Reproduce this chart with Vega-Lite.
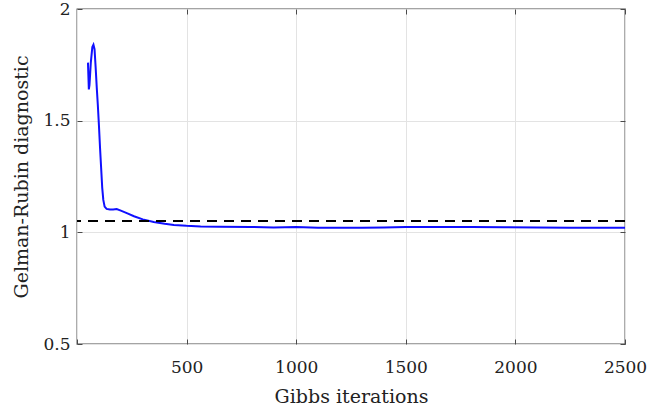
{
  "$schema": "https://vega.github.io/schema/vega-lite/v6.json",
  "width": 548,
  "height": 335,
  "autosize": {"type": "none"},
  "padding": {"left": 77, "top": 9, "right": 22, "bottom": 67},
  "config": {
    "font": "DejaVu Serif",
    "view": {"stroke": "#4a4a4a", "strokeWidth": 1.3},
    "axis": {
      "domain": false,
      "tickColor": "#4a4a4a",
      "tickWidth": 1,
      "tickSize": -5,
      "gridColor": "#e3e3e3",
      "gridWidth": 1,
      "labelFont": "DejaVu Serif",
      "labelFontSize": 17,
      "labelColor": "#222222",
      "labelFlush": false,
      "labelOverlap": false,
      "labelBound": false,
      "titleFont": "DejaVu Serif",
      "titleFontSize": 19,
      "titleFontWeight": "normal",
      "titleColor": "#222222"
    }
  },
  "data": {
    "values": [
      {"iter": 50, "R": 1.76},
      {"iter": 54, "R": 1.64},
      {"iter": 57, "R": 1.66},
      {"iter": 63, "R": 1.76},
      {"iter": 70, "R": 1.83},
      {"iter": 75, "R": 1.84},
      {"iter": 80, "R": 1.82},
      {"iter": 85, "R": 1.74},
      {"iter": 90, "R": 1.65},
      {"iter": 95, "R": 1.57},
      {"iter": 100, "R": 1.48},
      {"iter": 105, "R": 1.38},
      {"iter": 110, "R": 1.29},
      {"iter": 115, "R": 1.2},
      {"iter": 120, "R": 1.145},
      {"iter": 126, "R": 1.115},
      {"iter": 135, "R": 1.105},
      {"iter": 150, "R": 1.102},
      {"iter": 165, "R": 1.102},
      {"iter": 181, "R": 1.104},
      {"iter": 200, "R": 1.097},
      {"iter": 230, "R": 1.085},
      {"iter": 260, "R": 1.072},
      {"iter": 300, "R": 1.058},
      {"iter": 350, "R": 1.046},
      {"iter": 400, "R": 1.038},
      {"iter": 442, "R": 1.033},
      {"iter": 500, "R": 1.029},
      {"iter": 564, "R": 1.026},
      {"iter": 650, "R": 1.025},
      {"iter": 792, "R": 1.024},
      {"iter": 897, "R": 1.022},
      {"iter": 1000, "R": 1.024},
      {"iter": 1100, "R": 1.021},
      {"iter": 1200, "R": 1.02},
      {"iter": 1300, "R": 1.021},
      {"iter": 1400, "R": 1.022},
      {"iter": 1500, "R": 1.024},
      {"iter": 1650, "R": 1.024},
      {"iter": 1800, "R": 1.024},
      {"iter": 1950, "R": 1.023},
      {"iter": 2100, "R": 1.022},
      {"iter": 2250, "R": 1.021},
      {"iter": 2400, "R": 1.021},
      {"iter": 2500, "R": 1.021}
    ]
  },
  "layer": [
    {
      "mark": {"type": "line", "color": "#1010ff", "strokeWidth": 2},
      "encoding": {
        "x": {
          "field": "iter",
          "type": "quantitative",
          "scale": {"domain": [0, 2500], "nice": false},
          "axis": {
            "orient": "bottom",
            "values": [0, 500, 1000, 1500, 2000, 2500],
            "labelExpr": "datum.value == 0 ? '' : datum.label",
            "format": "d",
            "labelPadding": 20,
            "title": "Gibbs iterations",
            "titleBaseline": "alphabetic",
            "titleY": 58
          }
        },
        "y": {
          "field": "R",
          "type": "quantitative",
          "scale": {"domain": [0.5, 2], "nice": false, "zero": false},
          "axis": {
            "orient": "left",
            "values": [0.5, 1, 1.5, 2],
            "format": "~g",
            "labelPadding": 12,
            "title": "Gelman-Rubin diagnostic",
            "titleBaseline": "alphabetic",
            "titleX": -50
          }
        }
      }
    },
    {
      "mark": {"type": "rule", "color": "#000000", "strokeDash": [10, 7], "strokeWidth": 1.2},
      "encoding": {
        "y": {"datum": 1.05, "type": "quantitative", "axis": null}
      }
    },
    {
      "mark": {"type": "line", "opacity": 0},
      "encoding": {
        "x": {
          "field": "iter",
          "type": "quantitative",
          "scale": {"domain": [0, 2500], "nice": false},
          "axis": {"orient": "top", "values": [500, 1000, 1500, 2000, 2500], "labels": false, "grid": false, "title": null}
        },
        "y": {
          "field": "R",
          "type": "quantitative",
          "scale": {"domain": [0.5, 2], "nice": false, "zero": false},
          "axis": {"orient": "right", "values": [0.5, 1, 1.5, 2], "labels": false, "grid": false, "title": null}
        }
      }
    }
  ],
  "resolve": {"axis": {"x": "independent", "y": "independent"}}
}
